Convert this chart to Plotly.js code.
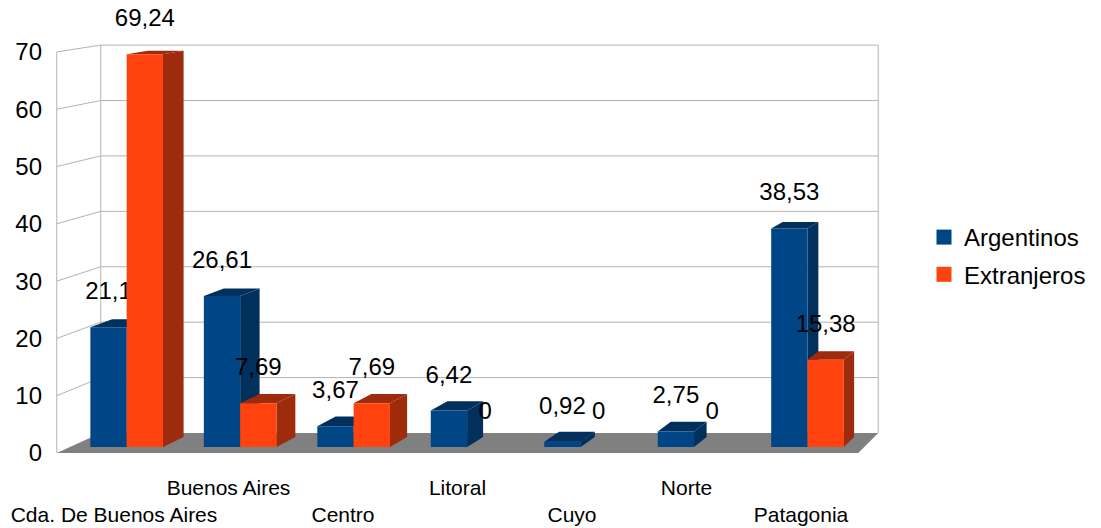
<!DOCTYPE html>
<html><head><meta charset="utf-8">
<script src="https://cdn.plot.ly/plotly-3.0.1.min.js"></script>
<style>html,body{margin:0;padding:0;background:#fff}#chart{width:1101px;height:528px}</style>
</head><body><div id="chart"></div>
<script>
// ---- data ----
const categories = ["Cda. De Buenos Aires","Buenos Aires","Centro","Litoral","Cuyo","Norte","Patagonia"];
const argentinos = [21.1, 26.61, 3.67, 6.42, 0.92, 2.75, 38.53];
const extranjeros = [69.24, 7.69, 7.69, 0, 0, 0, 15.38];
const seriesNames = ["Argentinos","Extranjeros"];
const yTicks = [0,10,20,30,40,50,60,70];

// ---- style / geometry ----
const W = 1101, H = 528, ML = 47, MB = 70;
const U = 114.5;           // px per category unit
const V = 5.73;            // px per value unit (front plane)
const PLOT_H = H - MB;
const yMax = (PLOT_H - 5) / V, yMin = -5 / V;
const xMin = -(114 - ML) / U, xMax = xMin + (W - ML) / U;
const K = 0.033, DEPTH_PX = 20;
function DX(x){ return (44 - (x + 0.5) / 7 * 24) / U; }
function proj(x, v, z){ return [x + z * DX(x), v * (1 - K * z) + z * DEPTH_PX / V]; }

const colors = {front:["#004586","#ff420e"], dark:["#01305c","#9e2b0b"]};
const Z1 = 0.3, Z2 = 0.8, BW = 0.32;
const FONT = "Liberation Sans, Arial, sans-serif";

function pathOf(pts){ return "M" + pts.map(p => p[0] + "," + p[1]).join("L") + "Z"; }

// walls and floor as shapes
const shapes = [];
const grid = {color:"#b3b3b3", width:1};
shapes.push({type:"path", xref:"x", yref:"y", layer:"below", fillcolor:"#808080", line:{width:0},
  path: pathOf([proj(-0.5,0,0), proj(6.5,0,0), proj(6.5,0,1), proj(-0.5,0,1)])});
yTicks.forEach(t => {
  if (t === 0) return;
  const a = proj(-0.5,t,0), b = proj(-0.5,t,1), c = proj(6.5,t,1);
  shapes.push({type:"path", xref:"x", yref:"y", layer:"below", line:grid, path:"M"+a+"L"+b+"L"+c});
});
const wallTop = yTicks[yTicks.length-1];
[[proj(-0.5,0,0),proj(-0.5,wallTop,0)],[proj(-0.5,0,1),proj(-0.5,wallTop,1)],[proj(6.5,0,1),proj(6.5,wallTop,1)]].forEach(s => {
  shapes.push({type:"path", xref:"x", yref:"y", layer:"below", line:grid, path:"M"+s[0]+"L"+s[1]});
});

// bars as projected polygons
const traces = [];
[argentinos, extranjeros].forEach((vals, s) => {
  const faces = {side:{x:[],y:[]}, topf:{x:[],y:[]}, front:{x:[],y:[]}};
  const lab = {x:[], y:[], t:[]};
  vals.forEach((v, i) => {
    const x0 = s === 0 ? i - BW : i, x1 = x0 + BW;
    const add = (f, pts) => { pts.forEach(p => { f.x.push(p[0]); f.y.push(p[1]); }); f.x.push(null); f.y.push(null); };
    if (v > 0) {
      add(faces.side, [proj(x1,0,Z1), proj(x1,0,Z2), proj(x1,v,Z2), proj(x1,v,Z1), proj(x1,0,Z1)]);
      add(faces.topf, [proj(x0,v,Z1), proj(x1,v,Z1), proj(x1,v,Z2), proj(x0,v,Z2), proj(x0,v,Z1)]);
      add(faces.front, [proj(x0,0,Z1), proj(x1,0,Z1), proj(x1,v,Z1), proj(x0,v,Z1), proj(x0,0,Z1)]);
    }
    const c = proj((x0 + x1) / 2, v, Z1);
    lab.x.push(c[0]); lab.y.push(c[1] + 34 / V); lab.t.push(String(v).replace(".", ","));
  });
  [["side", colors.dark[s]], ["topf", colors.dark[s]], ["front", colors.front[s]]].forEach(([k, col]) => {
    traces.push({type:"scatter", mode:"lines", x:faces[k].x, y:faces[k].y, fill:"toself",
      fillcolor:col, line:{width:0, color:col}, showlegend:false, hoverinfo:"skip"});
  });
  traces.push({type:"scatter", mode:"text", x:lab.x, y:lab.y, text:lab.t, textposition:"middle center",
    textfont:{family:FONT, size:24, color:"#000"}, showlegend:false, hoverinfo:"skip", cliponaxis:false});
  traces.push({type:"scatter", mode:"markers", x:[null], y:[null], name:seriesNames[s],
    legendgroup:"g"+s, marker:{symbol:"square", size:15, color:colors.front[s]}});
});

const ticktext = categories.map((c, i) => i % 2 === 0 ? "\u00a0<br>" + c : c);

const layout = {
  width:W, height:H, margin:{l:ML, r:0, t:0, b:MB}, paper_bgcolor:"#fff", plot_bgcolor:"#fff",
  font:{family:FONT, color:"#000"},
  showlegend:true, hovermode:false, shapes:shapes,
  legend:{x:(924 - ML) / (W - ML), xanchor:"left", y:1 - 215 / PLOT_H, yanchor:"top",
    font:{family:FONT, size:24, color:"#000"}, tracegroupgap:3, traceorder:"grouped", bgcolor:"rgba(0,0,0,0)"},
  xaxis:{range:[xMin, xMax], showgrid:false, zeroline:false, showline:false, ticks:"",
    tickvals:categories.map((c, i) => i), ticktext:ticktext, tickangle:0,
    tickfont:{family:FONT, size:21, color:"#000"}, ticklabelstandoff:15, fixedrange:true},
  yaxis:{range:[yMin, yMax], showgrid:false, zeroline:false, showline:false, ticks:"",
    tickvals:yTicks, ticktext:yTicks.map(String), tickfont:{family:FONT, size:24, color:"#000"},
    ticklabelstandoff:4, fixedrange:true}
};
Plotly.newPlot("chart", traces, layout, {staticPlot:true, displayModeBar:false});
</script></body></html>
